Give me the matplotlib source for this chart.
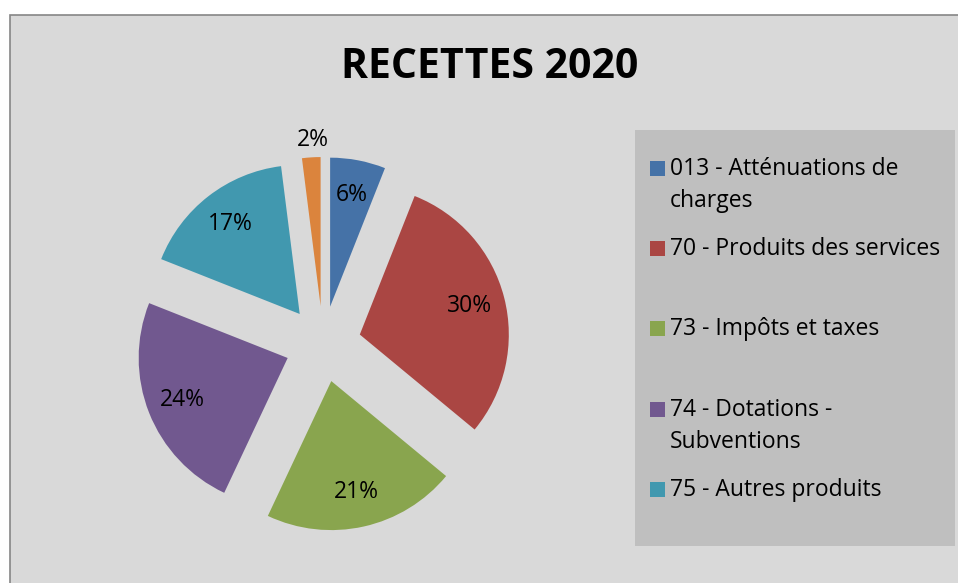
import matplotlib.pyplot as plt
from matplotlib.patches import Rectangle

# ---- data ----
values = [6, 30, 21, 24, 17, 2]
legend_labels = ['013 - Atténuations de\ncharges',
                 '70 - Produits des services',
                 '73 - Impôts et taxes',
                 '74 - Dotations -\nSubventions',
                 '75 - Autres produits']
colors = ['#4572a7', '#aa4643', '#89a54e', '#71588f', '#4198af', '#db843d']
title = 'RECETTES 2020'

W, H = 958, 583
font = 'Open Sans'


def main():
    fig = plt.figure(figsize=(W / 100, H / 100), dpi=100)
    fig.patch.set_facecolor('white')
    ax = fig.add_axes([0, 0, 1, 1])

    # chart area
    ax.add_patch(Rectangle((10, -10), W, H - 15 + 10, facecolor='#d9d9d9',
                           edgecolor='#868686', linewidth=1.2, zorder=0))

    # pie (pixel coordinates, y up); explode is in data units here
    cx, cy, r = 323, H - 344, 149
    wedges, texts, autotexts = ax.pie(values, colors=colors, startangle=90,
                                      counterclock=False, explode=[38] * len(values),
                                      center=(cx, cy), radius=r, autopct='%.0f%%',
                                      pctdistance=0.76, frame=True,
                                      textprops=dict(fontsize=16.5, family=font, color='black'))
    # small slice label sits outside
    autotexts[-1].set_position((313, H - 140))

    ax.set_xlim(0, W)
    ax.set_ylim(0, H)
    ax.set_aspect('auto')
    ax.axis('off')

    # title
    ax.text(490, H - 67, title, ha='center', va='center', fontsize=29.5,
            fontweight='bold', family=font)

    # legend box
    ax.add_patch(Rectangle((635, H - 546), 320, 416, facecolor='#bfbfbf',
                           edgecolor='none', zorder=1))
    ys = [168, 248, 328, 409, 489]
    for i, lab in enumerate(legend_labels):
        ax.add_patch(Rectangle((650, H - ys[i] - 7.5), 15, 15, facecolor=colors[i],
                               edgecolor='none', zorder=2))
        for j, line in enumerate(lab.split('\n')):
            ax.text(670, H - ys[i] - 7 - 32 * j, line, ha='left', va='baseline',
                    fontsize=16.5, family=font, zorder=3)

    fig.savefig('out.png', dpi=100)


if __name__ == '__main__':
    main()
